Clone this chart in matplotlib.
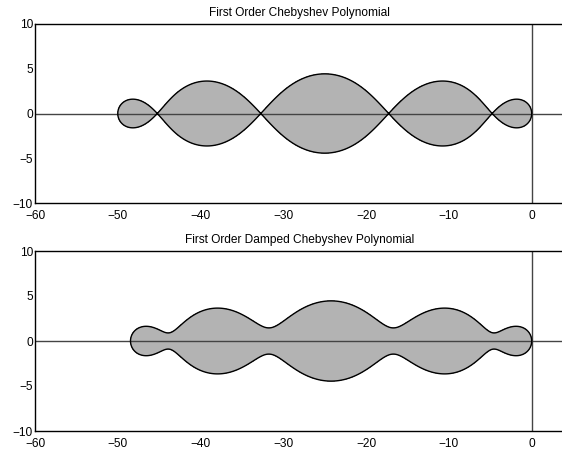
import numpy as np
import matplotlib
matplotlib.use("Agg")
import matplotlib.pyplot as plt
from numpy.polynomial import chebyshev as C

# Data: Chebyshev stability polynomials
titles = ["First Order Chebyshev Polynomial", "First Order Damped Chebyshev Polynomial"]
stages = [5, 5]          # number of stages (lobes) -> region reaches -2*s^2
damping = [0.0, 0.05]    # damping parameter epsilon
xticks = [-60, -50, -40, -30, -20, -10, 0]
yticks = [-10, -5, 0, 5, 10]

plt.rcParams['font.family'] = ['Liberation Sans', 'DejaVu Sans']
plt.rcParams['font.size'] = 8.6

fig = plt.figure(figsize=(5.62, 4.51), dpi=100)
W, H = 562, 451
left = 35 / W
width = (564.8 - 35) / W
axes_px = [(24, 203), (251, 431)]


def stab(s, eps, Z):
    w0 = 1 + eps / s**2
    cs = np.zeros(s + 1); cs[-1] = 1
    Ts = C.chebval(w0, cs)
    dTs = C.chebval(w0, C.chebder(cs))
    w1 = Ts / dTs
    return np.abs(C.chebval(w0 + w1 * Z, cs) / Ts)


xg = np.linspace(-52, 2, 2200)
yg = np.linspace(-6, 6, 900)
X, Y = np.meshgrid(xg, yg)
Z = X + 1j * Y

for i, (t, s, eps) in enumerate(zip(titles, stages, damping)):
    top, bot = axes_px[i]
    ax = fig.add_axes([left, 1 - bot / H, width, (bot - top) / H])
    R = stab(s, eps, Z)
    ax.contourf(X, Y, R, levels=[0, 1], colors=['#b3b3b3'], zorder=1)
    ax.contour(X, Y, R, levels=[1], colors='k', linewidths=1.0, zorder=3)
    ax.axhline(0, color='#444444', lw=1.0, zorder=2)
    ax.axvline(0, color='#444444', lw=1.0, zorder=2)
    ax.set_xlim(-60, 4)
    ax.set_ylim(-10, 10)
    ax.set_xticks(xticks)
    ax.set_yticks(yticks)
    ax.tick_params(axis='x', length=0, pad=5, labelsize=8.6)
    ax.tick_params(axis='y', length=0, pad=1.5, labelsize=8.6)
    ax.set_title(t, fontsize=8.6, pad=6)
    for sp in ax.spines.values():
        sp.set_linewidth(1.0)

fig.savefig("out.png", dpi=100)
